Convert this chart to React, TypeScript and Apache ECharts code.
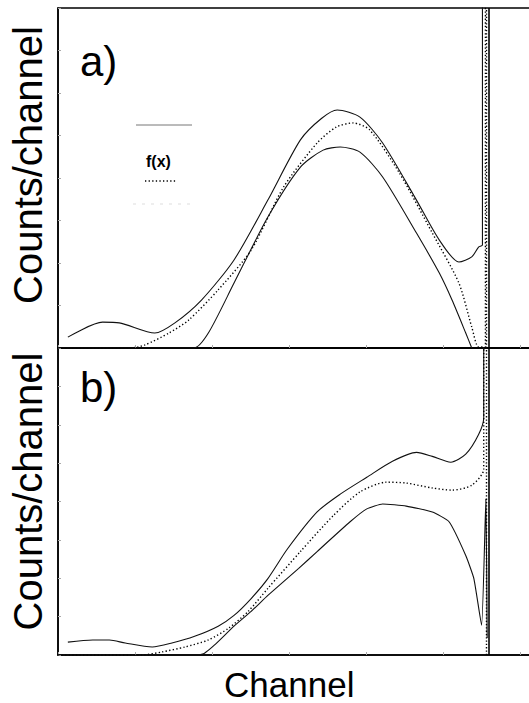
import React, { useEffect, useRef } from "react";
import * as echarts from "echarts";

// Panel a) — [channel, counts]
const upperA: number[][] = [
  [2.3, 3.2], [10.4, 7.6], [14.3, 7.4], [22.6, 4.4], [27.3, 7.4], [33.5, 14.1],
  [41.1, 25.9], [49.0, 43.5], [56.6, 61.2], [61.5, 67.5], [65.2, 70.0], [70.5, 67.9],
  [75.8, 60.3], [83.7, 43.5], [89.0, 31.8], [93.6, 25.3], [96.6, 26.8], [98.2, 29.7],
  [99.1, 30.3], [99.1, 102],
];
const fitA: number[][] = [
  [0, 0], [16.9, 0], [20.3, 0.9], [25.9, 4.4], [30.5, 8.2], [37.4, 17.1], [45.1, 28.8],
  [52.7, 47.4], [60.5, 60.3], [65.0, 65.0], [68.9, 66.2], [72.8, 64.1], [79.7, 51.5],
  [87.4, 33.8], [93.6, 19.1], [96.6, 6.2], [98.2, 0.3], [99.8, 0.3], [99.8, 102],
];
const lowerA: number[][] = [
  [0, 0], [31.7, 0], [35.1, 4.4], [41.1, 19.1], [49.0, 38.5], [56.6, 53.2], [61.9, 58.2],
  [65.9, 59.1], [70.5, 57.6], [75.8, 50.3], [83.7, 33.8], [89.0, 22.1], [92.0, 14.1],
  [95.2, 4.4], [96.6, 0],
];

// Panel b)
const upperB: number[][] = [
  [2.3, 4.2], [8.1, 4.9], [12.0, 4.9], [15.7, 3.9], [22.0, 2.6], [26.6, 3.9], [31.9, 6.1],
  [37.4, 9.4], [41.1, 12.9], [45.1, 18.4], [49.0, 24.9], [53.6, 34.6], [60.5, 46.6],
  [65.9, 52.4], [72.1, 57.9], [78.1, 63.1], [83.7, 66.0], [87.4, 64.7], [91.7, 62.8],
  [95.2, 65.4], [98.2, 71.8], [99.4, 77.3], [99.4, 102],
];
const fitB: number[][] = [
  [0, 0], [19.6, 0], [24.3, 1.0], [29.6, 2.6], [35.1, 4.9], [39.8, 8.7], [44.4, 14.2],
  [49.0, 21.7], [56.6, 33.7], [64.2, 45.3], [70.5, 53.1], [76.7, 56.3], [81.3, 56.0],
  [87.4, 54.4], [92.0, 53.7], [96.6, 55.3], [99.4, 60.5], [99.4, 102],
];
const lowerB: number[][] = [
  [0, 0], [32.8, 0], [34.2, 0.6], [36.5, 3.2], [41.1, 9.4], [45.1, 14.2], [49.0, 19.4],
  [56.2, 28.2], [60.5, 33.7], [68.2, 43.4], [72.1, 47.6], [75.8, 49.2], [81.3, 48.5],
  [87.4, 46.6], [91.3, 43.4], [95.2, 32.4], [97.1, 24.9], [98.9, 9.7], [99.9, 50.8],
  [100.2, 5.5],
];

const edgeChannel = 100.6;
const fitEdgeChannel = 99.9;
const channelMax = 115;

const FONT = "Liberation Sans, Arial, Helvetica, sans-serif";

export default function App() {
  const ref = useRef<HTMLDivElement>(null);
  useEffect(() => {
    if (!ref.current) return;
    const chart = echarts.init(ref.current, null, { renderer: "svg" });

    const solid = { color: "#111", width: 1.1 };
    const dotted = { color: "#000", width: 1.4, type: [1.3, 2.3] as any };

    const xAxisBase = (gridIndex: number, withName: boolean) => ({
      type: "value" as const,
      gridIndex,
      min: 0,
      max: channelMax,
      interval: 18,
      axisLine: { show: true, onZero: false, lineStyle: { color: "#000", width: 1.6 } },
      axisTick: { show: true, inside: true, length: 3, lineStyle: { color: "#aaa", width: 1 } },
      axisLabel: { show: false },
      splitLine: { show: false },
      name: withName ? "Channel" : "",
      nameLocation: "middle" as const,
      nameGap: 12,
      nameTextStyle: { fontFamily: FONT, fontSize: 35, color: "#000", verticalAlign: "top" as const, padding: [0, 30, 0, 0] },
    });
    const yAxisBase = (gridIndex: number, shift: number) => ({
      type: "value" as const,
      gridIndex,
      min: 0,
      max: 100,
      interval: 12.5,
      axisLine: { show: true, lineStyle: { color: "#000", width: 1.6 } },
      axisTick: { show: true, inside: true, length: 3, lineStyle: { color: "#aaa", width: 1 } },
      axisLabel: { show: false },
      splitLine: { show: false },
      name: "Counts/channel",
      nameLocation: "middle" as const,
      nameGap: 10,
      nameRotate: 90,
      nameTextStyle: { fontFamily: FONT, fontSize: 40, color: "#000", padding: [0, 0, 0, shift] },
    });

    const edgeLines = {
      symbol: "none",
      silent: true,
      label: { show: false },
      data: [
        { xAxis: edgeChannel, lineStyle: { color: "#000", width: 1.6, type: "solid" } },
        { xAxis: fitEdgeChannel, lineStyle: { color: "#000", width: 1.4, type: [1.3, 2.0] } },
      ],
    };

    const line = (name: string, data: number[][], idx: number, style: any, extra: any = {}) => ({
      name,
      type: "line" as const,
      xAxisIndex: idx,
      yAxisIndex: idx,
      data,
      showSymbol: false,
      smooth: 0.25,
      lineStyle: style,
      clip: true,
      ...extra,
    });

    const pxPerChannel = 474 / 110;
    const gridWidth = channelMax * pxPerChannel;

    chart.setOption({
      animation: false,
      backgroundColor: "#fff",
      grid: [
        { left: 55, top: 8, width: gridWidth, height: 340, show: true, borderColor: "#000", borderWidth: 1.4, backgroundColor: "transparent" },
        { left: 55, top: 348, width: gridWidth, height: 309, show: true, borderColor: "#000", borderWidth: 1.4, backgroundColor: "transparent" },
      ],
      xAxis: [xAxisBase(0, false), xAxisBase(1, true)],
      yAxis: [yAxisBase(0, 26), yAxisBase(1, 20)],
      series: [
        line("upper a", upperA, 0, solid, { markLine: edgeLines }),
        line("f(x)", fitA, 0, dotted),
        line("lower a", lowerA, 0, solid),
        line("upper b", upperB, 1, solid, { markLine: edgeLines }),
        line("f(x) b", fitB, 1, dotted),
        line("lower b", lowerB, 1, solid, { smooth: 0.15 }),
      ],
      graphic: [
        { type: "text", left: 80, top: 40, style: { text: "a)", font: `42px ${FONT}`, fill: "#000" } },
        { type: "text", left: 80, top: 366, style: { text: "b)", font: `42px ${FONT}`, fill: "#000" } },
        { type: "line", shape: { x1: 136, y1: 125, x2: 192, y2: 125 }, style: { stroke: "#777", lineWidth: 1 } },
        { type: "text", left: 146, top: 153, style: { text: "f(x)", font: `bold 16px ${FONT}`, fill: "#000" } },
        { type: "line", shape: { x1: 145, y1: 181, x2: 177, y2: 181 }, style: { stroke: "#000", lineWidth: 1.4, lineDash: [1.3, 2.3] } },
        { type: "line", shape: { x1: 133, y1: 204, x2: 193, y2: 204 }, style: { stroke: "#ddd", lineWidth: 1, lineDash: [3, 6] } },
      ],
    });
    return () => chart.dispose();
  }, []);
  return (
    <div
      ref={ref}
      style={{ position: "fixed", left: 0, top: 0, width: 570, height: 703, background: "#fff" }}
    />
  );
}
